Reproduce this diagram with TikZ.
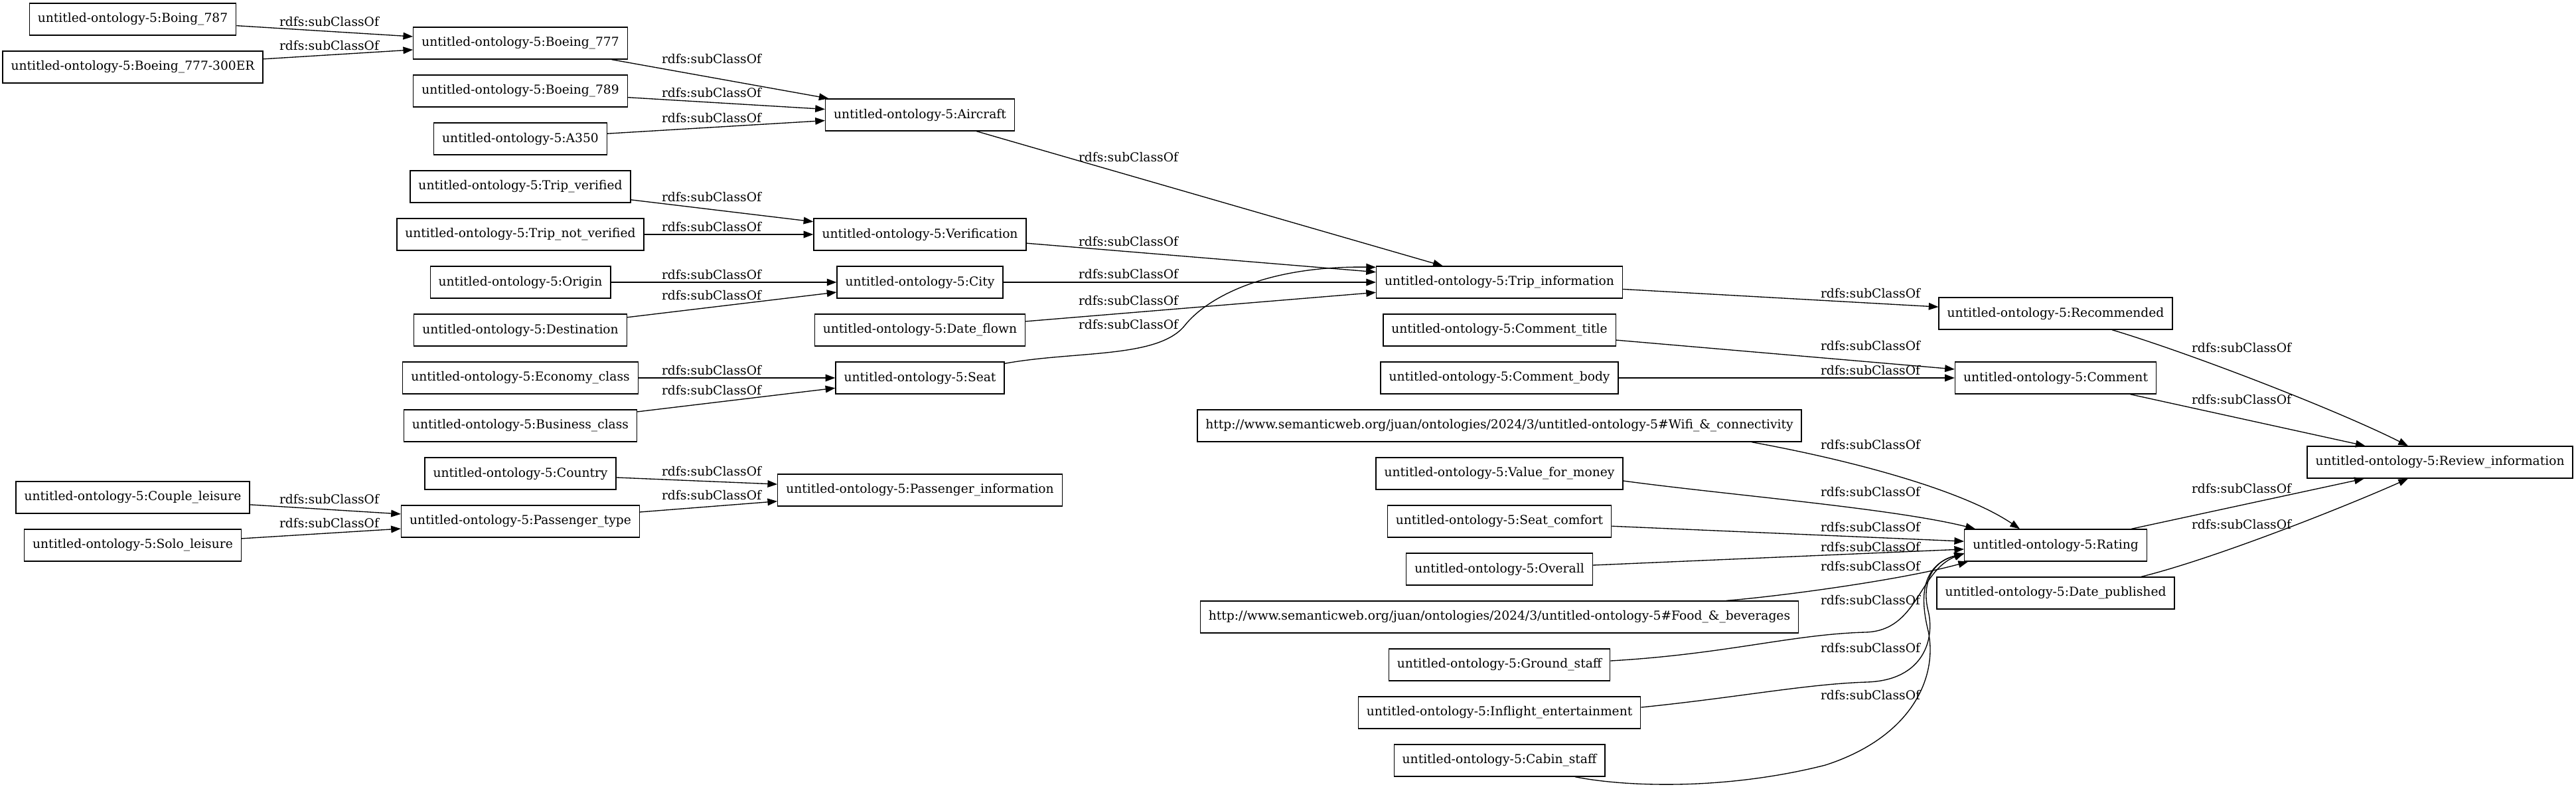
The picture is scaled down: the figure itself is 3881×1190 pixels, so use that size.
\documentclass[tikz,border=0pt]{standalone}
\usepackage{fontspec}
\setmainfont{DejaVu Serif}
\usetikzlibrary{arrows.meta,calc}
\begin{document}
\begin{tikzpicture}[x=0.75pt,y=-0.75pt,
  cls/.style={draw, line width=1pt, rectangle, minimum height=36pt, inner xsep=9.4pt, inner ysep=0pt, font=\fontsize{14}{17}\selectfont},
  lbl/.style={inner sep=0pt, font=\fontsize{14}{17}\selectfont},
  edge/.style={draw, line width=1pt, -{Triangle[length=11pt,width=8pt]}}]
\useasboundingbox (0,0) rectangle (3881,1190);
% nodes
\node[cls] (b787) at (200,29) {untitled-ontology-5:Boing\_787};
\node[cls] (b777er) at (200,101) {untitled-ontology-5:Boeing\_777-300ER};
\node[cls] (couple) at (200,749) {untitled-ontology-5:Couple\_leisure};
\node[cls] (solo) at (200,821) {untitled-ontology-5:Solo\_leisure};
\node[cls] (b777) at (784,65) {untitled-ontology-5:Boeing\_777};
\node[cls] (b789) at (784,137) {untitled-ontology-5:Boeing\_789};
\node[cls] (a350) at (784,209) {untitled-ontology-5:A350};
\node[cls] (tripv) at (784,281) {untitled-ontology-5:Trip\_verified};
\node[cls] (tripnv) at (784,353) {untitled-ontology-5:Trip\_not\_verified};
\node[cls] (origin) at (784,425) {untitled-ontology-5:Origin};
\node[cls] (dest) at (784,497) {untitled-ontology-5:Destination};
\node[cls] (econ) at (784,569) {untitled-ontology-5:Economy\_class};
\node[cls] (bus) at (784,641) {untitled-ontology-5:Business\_class};
\node[cls] (country) at (784,713) {untitled-ontology-5:Country};
\node[cls] (ptype) at (784,785) {untitled-ontology-5:Passenger\_type};
\node[cls] (aircraft) at (1386,173) {untitled-ontology-5:Aircraft};
\node[cls] (verif) at (1386,353) {untitled-ontology-5:Verification};
\node[cls] (city) at (1386,425) {untitled-ontology-5:City};
\node[cls] (dflown) at (1386,497) {untitled-ontology-5:Date\_flown};
\node[cls] (seat) at (1386,569) {untitled-ontology-5:Seat};
\node[cls] (pinfo) at (1386,738) {untitled-ontology-5:Passenger\_information};
\node[cls] (tripinfo) at (2259,425) {untitled-ontology-5:Trip\_information};
\node[cls] (ctitle) at (2259,497) {untitled-ontology-5:Comment\_title};
\node[cls] (cbody) at (2259,569) {untitled-ontology-5:Comment\_body};
\node[cls] (wifi) at (2259,641) {http://www.semanticweb.org/juan/ontologies/2024/3/untitled-ontology-5\#Wifi\_\&\_connectivity};
\node[cls] (vfm) at (2259,713) {untitled-ontology-5:Value\_for\_money};
\node[cls] (scomf) at (2259,785) {untitled-ontology-5:Seat\_comfort};
\node[cls] (overall) at (2259,857) {untitled-ontology-5:Overall};
\node[cls] (food) at (2259,929) {http://www.semanticweb.org/juan/ontologies/2024/3/untitled-ontology-5\#Food\_\&\_beverages};
\node[cls] (ground) at (2259,1001) {untitled-ontology-5:Ground\_staff};
\node[cls] (inflight) at (2259,1073) {untitled-ontology-5:Inflight\_entertainment};
\node[cls] (cabin) at (2259,1145) {untitled-ontology-5:Cabin\_staff};
\node[cls] (recom) at (3097,472) {untitled-ontology-5:Recommended};
\node[cls] (comment) at (3097,569) {untitled-ontology-5:Comment};
\node[cls] (rating) at (3097,821) {untitled-ontology-5:Rating};
\node[cls] (dpub) at (3097,893) {untitled-ontology-5:Date\_published};
\node[cls] (review) at (3676,696) {untitled-ontology-5:Review\_information};
% straight edges
\path[edge] (b787) -- (b777);
\path[edge] (b777er) -- (b777);
\path[edge] (b777) -- (aircraft);
\path[edge] (b789) -- (aircraft);
\path[edge] (a350) -- (aircraft);
\path[edge] (tripv) -- (verif);
\path[edge] (tripnv) -- (verif);
\path[edge] (origin) -- (city);
\path[edge] (dest) -- (city);
\path[edge] (econ) -- (seat);
\path[edge] (bus) -- (seat);
\path[edge] (country) -- (pinfo);
\path[edge] (ptype) -- (pinfo);
\path[edge] (couple) -- (ptype);
\path[edge] (solo) -- (ptype);
\path[edge] (aircraft) -- (tripinfo);
\path[edge] (verif) -- (tripinfo);
\path[edge] (city) -- (tripinfo);
\path[edge] (dflown) -- (tripinfo);
\path[edge] (tripinfo) -- (recom);
\path[edge] (ctitle) -- (comment);
\path[edge] (cbody) -- (comment);
\path[edge] (comment) -- (review);
\path[edge] (rating) -- (review);
\path[edge] (scomf) -- (rating);
\path[edge] (overall) -- (rating);
% curved edges
\path[edge] ($(seat.north east)+(0,3)$) .. controls (1620,528) and (1745,540) .. (1785,490)
  .. controls (1815,452) and (1900,400) .. ($(tripinfo.north west)+(0,2)$);
\path[edge] ($(wifi.south)+(380,0)$) .. controls (2800,695) and (2960,740) .. ($(rating.north)+(-54,0)$);
\path[edge] ($(vfm.east)+(0,11)$) .. controls (2600,745) and (2850,765) .. ($(rating.north west)+(17,0)$);
\path[edge] ($(food.north east)+(-109,0)$) .. controls (2690,897) and (2870,872) .. ($(rating.south west)+(6,0)$);
\path[edge] ($(ground.east)+(0,-6)$) .. controls (2600,985) and (2700,955) .. (2810,952)
  .. controls (2890,950) and (2890,860) .. ($(rating.west)+(0,12)$);
\path[edge] ($(inflight.east)+(0,-8)$) .. controls (2620,1050) and (2720,1030) .. (2813,1027)
  .. controls (2900,1024) and (2915,960) .. (2905,920)
  .. controls (2895,880) and (2910,845) .. ($(rating.west)+(0,13)$);
\path[edge] ($(cabin.south)+(114,0)$) .. controls (2450,1185) and (2600,1190) .. (2750,1152)
  .. controls (2880,1110) and (2920,1020) .. (2905,950)
  .. controls (2890,890) and (2900,850) .. ($(rating.west)+(0,12)$);
\path[edge] ($(recom.south)+(85,0)$) .. controls (3300,532) and (3520,617) .. ($(review.north)+(-48,0)$);
\path[edge] ($(dpub.north)+(129,0)$) .. controls (3340,840) and (3540,760) .. ($(review.south)+(-48,0)$);
% labels
\node[lbl] (l1) at (496,33) {rdfs:subClassOf};
\node[lbl] (l2) at (496,69) {rdfs:subClassOf};
\node[lbl] (l3) at (1072,89) {rdfs:subClassOf};
\node[lbl] (l4) at (1072,140) {rdfs:subClassOf};
\node[lbl] (l5) at (1072,178) {rdfs:subClassOf};
\node[lbl] (l6) at (1072,297) {rdfs:subClassOf};
\node[lbl] (l7) at (1072,342) {rdfs:subClassOf};
\node[lbl] (l8) at (1072,414) {rdfs:subClassOf};
\node[lbl] (l9) at (1072,445) {rdfs:subClassOf};
\node[lbl] (l10) at (1072,558) {rdfs:subClassOf};
\node[lbl] (l11) at (1072,588) {rdfs:subClassOf};
\node[lbl] (l12) at (1072,710) {rdfs:subClassOf};
\node[lbl] (l13) at (1072,746) {rdfs:subClassOf};
\node[lbl] (l14) at (496,752) {rdfs:subClassOf};
\node[lbl] (l15) at (496,788) {rdfs:subClassOf};
\node[lbl] (l16) at (1700,237) {rdfs:subClassOf};
\node[lbl] (l17) at (1700,364) {rdfs:subClassOf};
\node[lbl] (l18) at (1700,413) {rdfs:subClassOf};
\node[lbl] (l19) at (1700,453) {rdfs:subClassOf};
\node[lbl] (l20) at (1700,489) {rdfs:subClassOf};
\node[lbl] (l21) at (2818,442) {rdfs:subClassOf};
\node[lbl] (l22) at (2818,521) {rdfs:subClassOf};
\node[lbl] (l23) at (2818,558) {rdfs:subClassOf};
\node[lbl] (l24) at (2818,670) {rdfs:subClassOf};
\node[lbl] (l25) at (2818,741) {rdfs:subClassOf};
\node[lbl] (l26) at (2818,794) {rdfs:subClassOf};
\node[lbl] (l27) at (2818,824) {rdfs:subClassOf};
\node[lbl] (l28) at (2818,853) {rdfs:subClassOf};
\node[lbl] (l29) at (2818,904) {rdfs:subClassOf};
\node[lbl] (l30) at (2818,976) {rdfs:subClassOf};
\node[lbl] (l31) at (2818,1047) {rdfs:subClassOf};
\node[lbl] (l32) at (3377,524) {rdfs:subClassOf};
\node[lbl] (l33) at (3377,602) {rdfs:subClassOf};
\node[lbl] (l34) at (3377,736) {rdfs:subClassOf};
\node[lbl] (l35) at (3377,790) {rdfs:subClassOf};
\end{tikzpicture}
\end{document}
